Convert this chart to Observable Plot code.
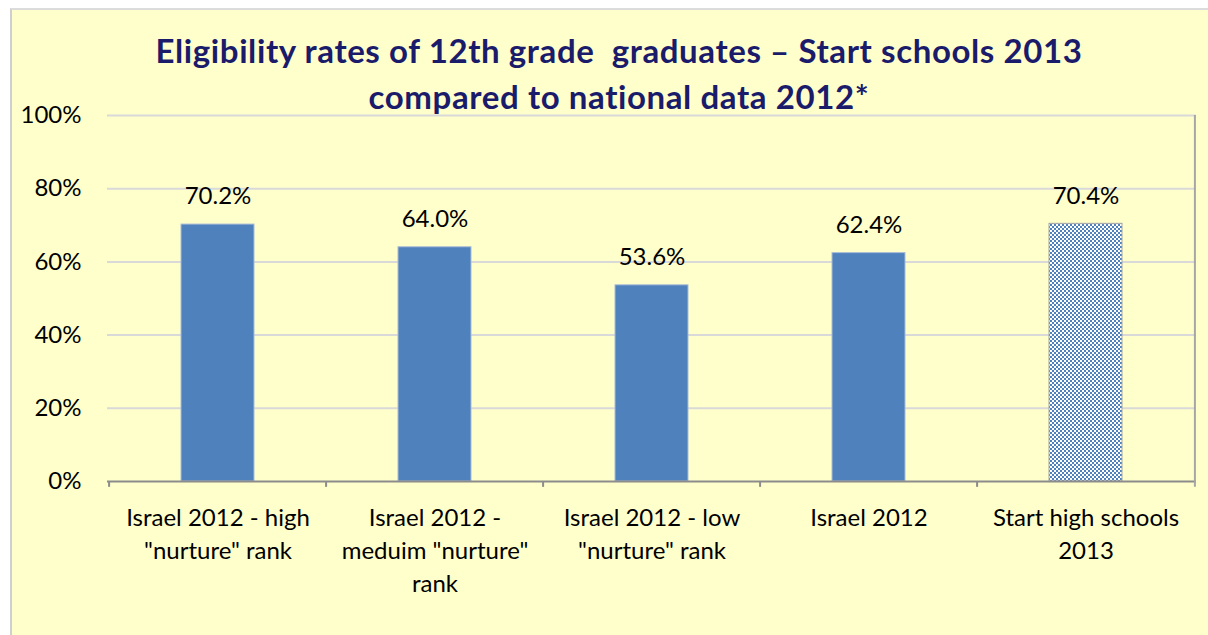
<!DOCTYPE html>
<html>
<head>
<meta charset="utf-8">
<script src="https://cdn.jsdelivr.net/npm/d3@7"></script>
<script src="https://cdn.jsdelivr.net/npm/@observablehq/plot@0.6"></script>
<style>
  html, body { margin: 0; padding: 0; background: #ffffff; width: 1208px; height: 635px; overflow: hidden; }
  #frame { position: absolute; left: 10px; top: 8px; width: 1198px; height: 627px; background: #FFFFCC;
           border-left: 2px solid #cfcfcf; border-top: 2px solid #dcdcdc; box-sizing: border-box; }
  #title { position: absolute; left: 619px; top: 27px; transform: translateX(-50%); white-space: nowrap;
           font-family: Lato, "Open Sans", sans-serif; font-weight: bold; font-size: 33px; line-height: 46px;
           letter-spacing: 0.6px; color: #1b1b6b; text-align: center; z-index: 2; }
  #chart { position: absolute; left: 10px; top: 8px; }
</style>
</head>
<body>
<div id="frame"></div>
<div id="title">Eligibility rates of 12th grade&nbsp; graduates – Start schools 2013<br>compared to national data 2012*</div>
<div id="chart"></div>
<script>
const categories = ["Israel 2012 - high", "Israel 2012 - medium", "Israel 2012 - low", "Israel 2012", "Start high schools 2013"];
const values = [70.2, 64.0, 53.6, 62.4, 70.4];
const groups = ["national", "national", "national", "national", "start"];
const tickLabels = ["Israel 2012 - high\n\"nurture\" rank", "Israel 2012 -\nmeduim \"nurture\"\nrank", "Israel 2012 - low\n\"nurture\" rank", "Israel 2012", "Start high schools\n2013"];
const yTicks = [0, 20, 40, 60, 80, 100];

const data = categories.map((c, i) => ({category: c, value: values[i], group: groups[i]}));

const W = 1198, H = 627, ML = 97, MR = 12, MT = 107, MB = 154;
const band = (W - ML - MR) / categories.length;
const font = "Lato, 'Open Sans', sans-serif";

const plot = Plot.plot({
  width: W, height: H,
  marginLeft: ML, marginRight: MR, marginTop: MT, marginBottom: MB,
  style: {background: "transparent", fontFamily: font, fontSize: "24px", color: "#000"},
  x: {domain: categories, paddingInner: 0.665, paddingOuter: 0.3325, label: null},
  y: {domain: [0, 100], label: null},
  marks: [
    Plot.ruleY(yTicks.filter(d => d > 0), {stroke: "#d9d9d9", strokeWidth: 2}),
    Plot.barY(data.filter(d => d.group === "national"), {x: "category", y: "value", fill: "#4F81BD", stroke: "#a9bcd6", strokeWidth: 1}),
    Plot.barY(data.filter(d => d.group === "start"), {x: "category", y: "value", fill: "url(#chk)", stroke: "#a5a5a5", strokeWidth: 1}),
    Plot.text(data, {x: "category", y: "value", text: d => d.value.toFixed(1) + "%", dy: -28, lineAnchor: "middle", fontSize: 24, fill: "#000"}),
    Plot.ruleY([0], {stroke: "#8c8c8c", strokeWidth: 2}),
    Plot.ruleX(categories, {x: d => d, y1: 0, y2: -1.6, dx: -band / 2, stroke: "#8c8c8c", strokeWidth: 2}),
    Plot.ruleX(categories.slice(-1), {x: d => d, y1: -1.6, y2: 100, dx: band / 2, stroke: "#a6a6a6", strokeWidth: 2}),
    Plot.axisY({ticks: yTicks, tickSize: 0, tickPadding: 26, tickFormat: d => d + "%", fontSize: 24, fill: "#000"}),
    Plot.axisX({tickSize: 0, tickPadding: 21, tickFormat: d => tickLabels[categories.indexOf(d)], lineHeight: 1.375, fontSize: 24, fill: "#000"})
  ]
});

const ns = "http://www.w3.org/2000/svg";
const defs = document.createElementNS(ns, "defs");
defs.innerHTML = '<pattern id="chk" patternUnits="userSpaceOnUse" width="4" height="4">' +
  '<rect width="4" height="4" fill="#ffffff"/>' +
  '<rect x="0" y="0" width="2" height="2" fill="#4F81BD"/>' +
  '<rect x="2" y="2" width="2" height="2" fill="#4F81BD"/></pattern>';
plot.insertBefore(defs, plot.firstChild);
document.getElementById("chart").appendChild(plot);
</script>
</body>
</html>
